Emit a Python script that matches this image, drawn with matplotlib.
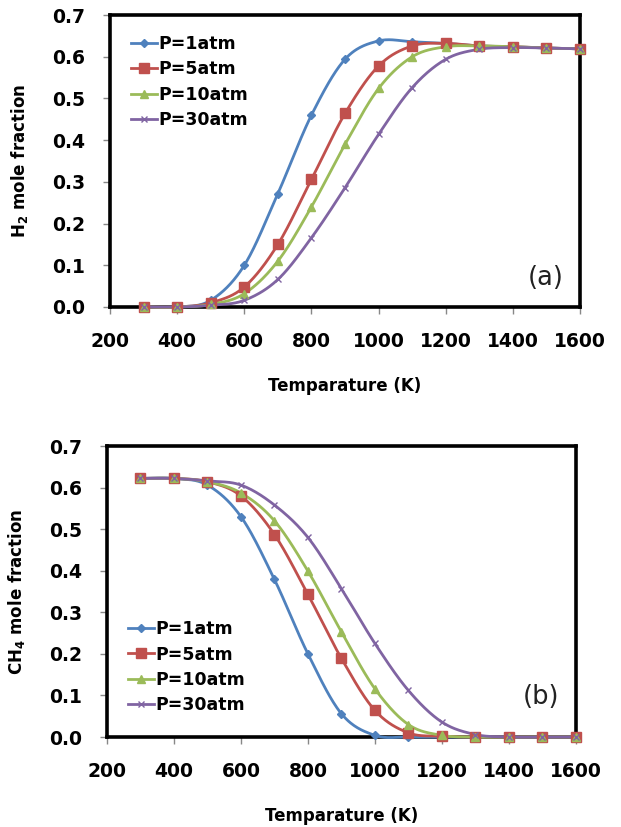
import numpy as np
import matplotlib
matplotlib.use("Agg")
import matplotlib.pyplot as plt

temps = [300, 400, 500, 600, 700, 800, 900, 1000, 1100, 1200, 1300, 1400, 1500, 1600]
labels = ["P=1atm", "P=5atm", "P=10atm", "P=30atm"]

h2_p1 = [0.0, 0.0, 0.016, 0.100, 0.272, 0.460, 0.594, 0.638, 0.636, 0.632, 0.626, 0.624, 0.621, 0.619]
h2_p5 = [0.0, 0.0, 0.010, 0.048, 0.150, 0.306, 0.464, 0.578, 0.626, 0.632, 0.626, 0.624, 0.621, 0.619]
h2_p10 = [0.0, 0.0, 0.006, 0.032, 0.110, 0.240, 0.390, 0.524, 0.600, 0.624, 0.626, 0.624, 0.621, 0.619]
h2_p30 = [0.0, 0.0, 0.004, 0.016, 0.066, 0.166, 0.286, 0.414, 0.526, 0.594, 0.618, 0.622, 0.621, 0.619]

ch4_p1 = [0.622, 0.622, 0.606, 0.530, 0.379, 0.200, 0.056, 0.004, 0.0, 0.0, 0.0, 0.0, 0.0, 0.0]
ch4_p5 = [0.622, 0.622, 0.614, 0.580, 0.487, 0.343, 0.189, 0.064, 0.010, 0.002, 0.0, 0.0, 0.0, 0.0]
ch4_p10 = [0.622, 0.622, 0.614, 0.587, 0.520, 0.399, 0.253, 0.116, 0.030, 0.004, 0.0, 0.0, 0.0, 0.0]
ch4_p30 = [0.622, 0.622, 0.616, 0.606, 0.558, 0.480, 0.357, 0.225, 0.112, 0.036, 0.006, 0.0, 0.0, 0.0]

colors = ["#4F81BD", "#C0504D", "#9BBB59", "#8064A2"]
markers = ["D", "s", "^", "x"]
msizes = [4.5, 6.5, 5.5, 5]

xticks = [200, 400, 600, 800, 1000, 1200, 1400, 1600]
yticks = [0.0, 0.1, 0.2, 0.3, 0.4, 0.5, 0.6, 0.7]


def smooth(x, y, n=30):
    x = np.asarray(x, float)
    y = np.asarray(y, float)
    xs, ys = [], []
    N = len(x)
    for i in range(N - 1):
        p0 = (x[max(i - 1, 0)], y[max(i - 1, 0)])
        p1 = (x[i], y[i])
        p2 = (x[i + 1], y[i + 1])
        p3 = (x[min(i + 2, N - 1)], y[min(i + 2, N - 1)])
        c1 = (p1[0] + (p2[0] - p0[0]) / 6, p1[1] + (p2[1] - p0[1]) / 6)
        c2 = (p2[0] - (p3[0] - p1[0]) / 6, p2[1] - (p3[1] - p1[1]) / 6)
        t = np.linspace(0, 1, n)
        bx = (1 - t) ** 3 * p1[0] + 3 * (1 - t) ** 2 * t * c1[0] + 3 * (1 - t) * t ** 2 * c2[0] + t ** 3 * p2[0]
        by = (1 - t) ** 3 * p1[1] + 3 * (1 - t) ** 2 * t * c1[1] + 3 * (1 - t) * t ** 2 * c2[1] + t ** 3 * p2[1]
        xs.append(bx)
        ys.append(by)
    return np.concatenate(xs), np.concatenate(ys)


fig = plt.figure(figsize=(6.21, 8.27), dpi=100)
ax1 = fig.add_axes([0.1771, 0.6288, 0.757, 0.353])
ax2 = fig.add_axes([0.1723, 0.1088, 0.755, 0.3519])

tick_font = dict(family="DejaVu Sans", weight="bold", size=13.5)


def draw(ax, series, ylabel, tag, tag_y, legend_anchor):
    handles = []
    for s, c, m, ms, lab in zip(series, colors, markers, msizes, labels):
        sx, sy = smooth(temps, s)
        ax.plot(sx, sy, color=c, lw=2.0, zorder=3, clip_on=False)
        kw = dict(markeredgewidth=1.0) if m == "x" else dict(markeredgecolor=c)
        ax.plot(temps, s, linestyle="none", marker=m, ms=ms, color=c, zorder=4, clip_on=False, **kw)
        h, = ax.plot([], [], color=c, lw=2.0, marker=m, ms=ms, label=lab)
        handles.append(h)
    ax.set_xlim(200, 1600)
    ax.set_ylim(0, 0.7)
    ax.set_xticks(xticks)
    ax.set_yticks(yticks)
    ax.set_xticklabels([str(v) for v in xticks], fontdict=tick_font)
    ax.set_yticklabels(["%.1f" % v for v in yticks], fontdict=tick_font)
    ax.tick_params(axis="both", direction="out", length=5, width=1, color="#888888")
    ax.tick_params(axis="x", pad=13)
    ax.tick_params(axis="y", pad=13)
    for sp in ax.spines.values():
        sp.set_linewidth(2.6)
        sp.set_color("black")
        sp.set_zorder(2)
    ax.set_xlabel("Temparature (K)", fontsize=12, fontweight="bold", labelpad=19)
    ax.set_ylabel(ylabel, fontsize=12, fontweight="bold", labelpad=16)
    ax.text(0.965, tag_y, tag, transform=ax.transAxes, ha="right", va="center", fontsize=18.5,
            color="#222222")
    ax.legend(handles=handles, loc="upper left", bbox_to_anchor=legend_anchor, frameon=False,
              prop=dict(family="DejaVu Sans", weight="bold", size=12.5),
              handlelength=1.5, handletextpad=0.1, labelspacing=0.42, borderaxespad=0)


draw(ax1, [h2_p1, h2_p5, h2_p10, h2_p30], r"H$_\mathbf{2}$ mole fraction", "(a)", 0.10, (0.03, 0.955))
draw(ax2, [ch4_p1, ch4_p5, ch4_p10, ch4_p30], r"CH$_\mathbf{4}$ mole fraction", "(b)", 0.137, (0.03, 0.425))

fig.savefig("out.png", dpi=100)
